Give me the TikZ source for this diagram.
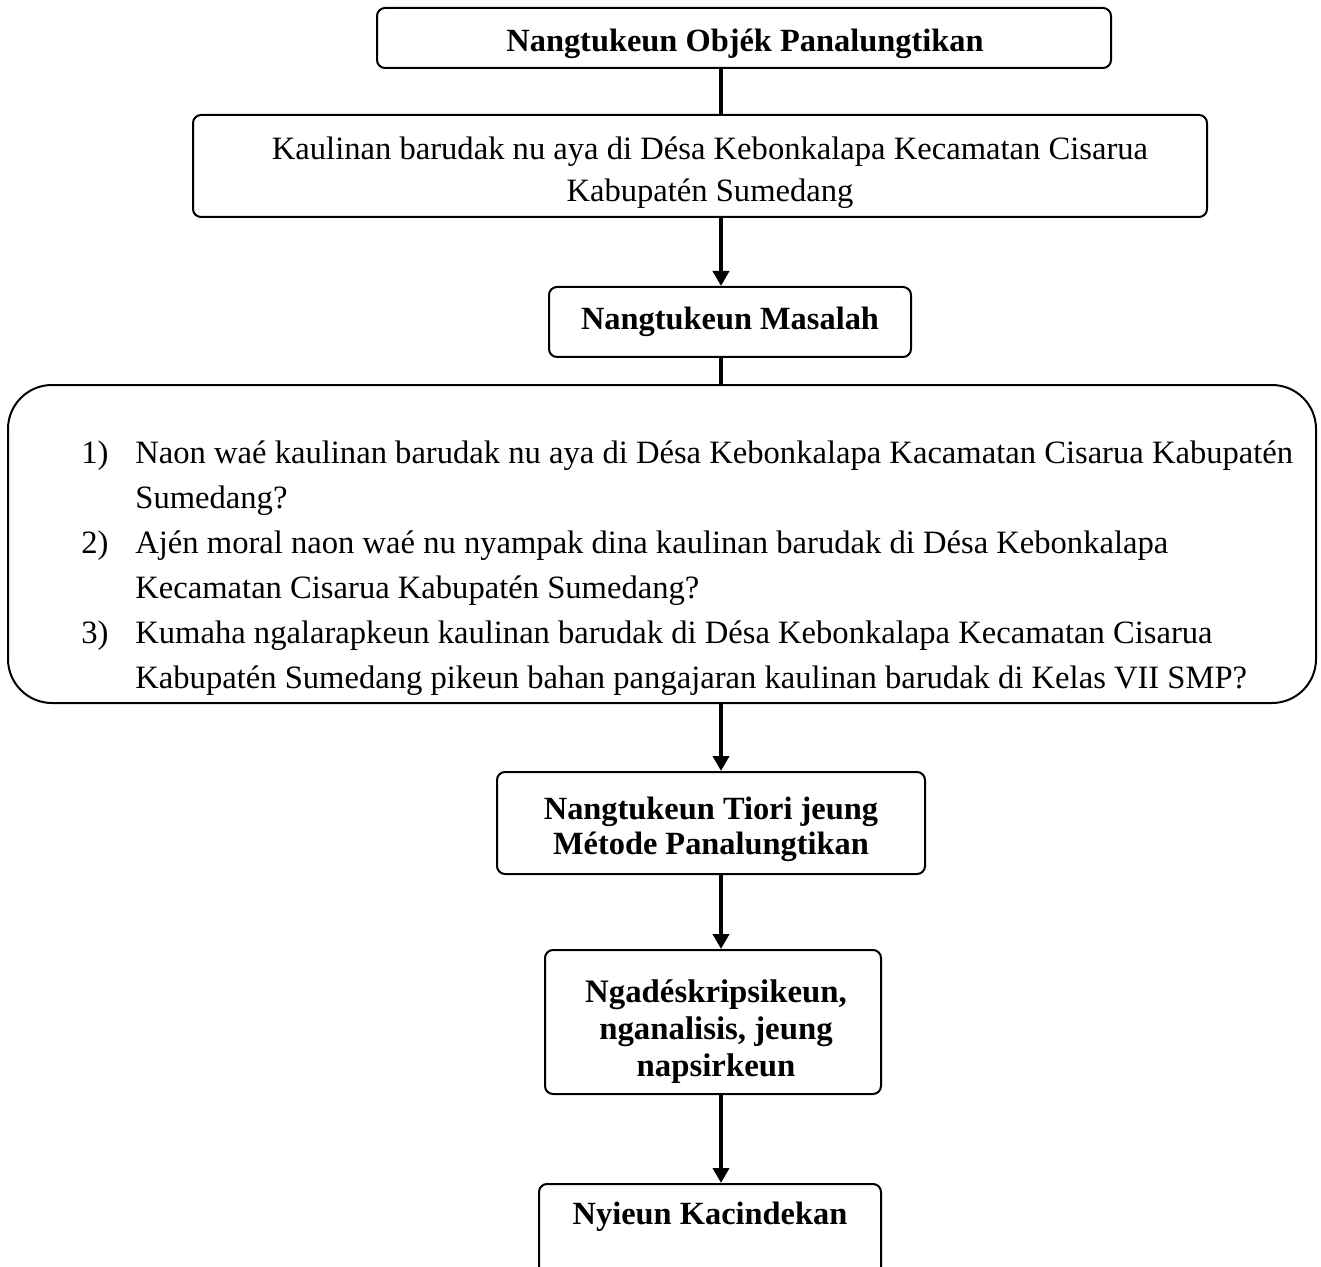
\documentclass[tikz,border=0pt]{standalone}
\usepackage{fontspec}
\setmainfont{Liberation Serif}
\usetikzlibrary{arrows.meta}
\begin{document}
\begin{tikzpicture}[x=0.5pt,y=-0.5pt,
  box/.style={draw, line width=1pt, rounded corners=4pt, inner sep=0pt},
  txt/.style={inner sep=0pt, align=center, font=\fontsize{16.2}{17.5}\selectfont\bfseries},
  conn/.style={line width=2pt},
  arr/.style={conn, -{Triangle[width=8pt,length=7.5pt]}}]
\path[use as bounding box] (0,0) rectangle (1321,1267);
\clip (0,0) rectangle (1321,1267);
\coordinate (axis) at (721,0);

% boxes
\node[box, minimum width=367pt, minimum height=30pt] (obj) at (744,38) {};
\node[box, minimum width=507pt, minimum height=51pt] (kaul) at (700,166) {};
\node[box, minimum width=181pt, minimum height=35pt] (mas) at (730,322) {};
\node[box, rounded corners=22pt, minimum width=654pt, minimum height=159pt] (q) at (662,544) {};
\node[box, minimum width=214pt, minimum height=51pt] (tiori) at (711,823) {};
\node[box, minimum width=168pt, minimum height=72pt] (desk) at (713,1022) {};
\node[box, anchor=north, minimum width=171pt, minimum height=55pt] (kac) at (710,1183) {};

% texts
\node[txt] (objt) at (745,44) {Nangtukeun Objék Panalungtikan};
\node[txt, font=\fontsize{16.3}{21}\selectfont] (kault) at (710,173)
  {Kaulinan barudak nu aya di Désa Kebonkalapa Kecamatan Cisarua\\Kabupatén Sumedang};
\node[txt] (mast) at (730,322) {Nangtukeun Masalah};
\node[anchor=west, inner sep=0pt, font=\fontsize{16.3}{22.5}\selectfont] (qt) at (81,567)
  {\begin{tabular}{@{}p{27pt}@{}l@{}}
  1) & Naon waé kaulinan barudak nu aya di Désa Kebonkalapa Kacamatan Cisarua Kabupatén\\
     & Sumedang?\\
  2) & Ajén moral naon waé nu nyampak dina kaulinan barudak di Désa Kebonkalapa\\
     & Kecamatan Cisarua Kabupatén Sumedang?\\
  3) & Kumaha ngalarapkeun kaulinan barudak di Désa Kebonkalapa Kecamatan Cisarua\\
     & Kabupatén Sumedang pikeun bahan pangajaran kaulinan barudak di Kelas VII SMP?
  \end{tabular}};
\node[txt] (tiorit) at (711,829) {Nangtukeun Tiori jeung\\Métode Panalungtikan};
\node[txt, font=\fontsize{16.4}{18.5}\selectfont\bfseries] (deskt) at (716,1032)
  {Ngadéskripsikeun,\\nganalisis, jeung\\napsirkeun};
\node[txt] (kact) at (710,1217) {Nyieun Kacindekan};

% connectors
\draw[conn] (obj.south -| axis) -- (kaul.north -| axis);
\draw[arr] (kaul.south -| axis) -- (mas.north -| axis);
\draw[conn] (mas.south -| axis) -- (q.north -| axis);
\draw[arr] (q.south -| axis) -- (tiori.north -| axis);
\draw[arr] (tiori.south -| axis) -- (desk.north -| axis);
\draw[arr] (desk.south -| axis) -- (kac.north -| axis);
\end{tikzpicture}
\end{document}
